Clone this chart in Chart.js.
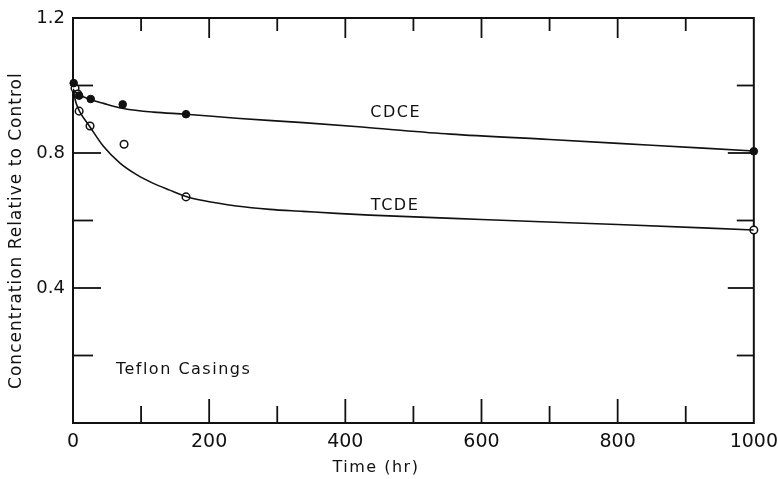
<!DOCTYPE html>
<html>
<head>
<meta charset="utf-8">
<script src="https://cdn.jsdelivr.net/npm/chart.js@4.4.1/dist/chart.umd.min.js"></script>
<style>
  html, body { margin: 0; background: #fff; }
  #wrap { width: 778px; height: 479px; }
</style>
</head>
<body>
<div id="wrap"><canvas id="chart"></canvas></div>
<script>
// measured points (hr, relative concentration)
const cdceHours = [1, 9, 26, 73, 166, 1000];
const cdceValues = [1.007, 0.97, 0.96, 0.944, 0.915, 0.805];
const tcdeHours = [3, 7, 9, 25, 75, 166, 1000];
const tcdeValues = [0.992, 0.975, 0.924, 0.88, 0.826, 0.67, 0.572];

// the drawn-in curves
const cdceFitHours = [0, 3, 25, 45, 74, 118, 166, 240, 338, 436, 554, 700, 850, 1000];
const cdceFitValues = [0.99, 0.982, 0.959, 0.947, 0.932, 0.921, 0.915, 0.903, 0.89, 0.875, 0.856, 0.84, 0.823, 0.806];
const tcdeFitHours = [0, 3, 5, 10, 25, 45, 69, 94, 118, 142, 166, 191, 240, 289, 338, 387, 436, 600, 800, 1000];
const tcdeFitValues = [0.99, 0.96, 0.945, 0.922, 0.877, 0.819, 0.77, 0.735, 0.71, 0.69, 0.671, 0.659, 0.643, 0.633, 0.627, 0.621, 0.616, 0.603, 0.588, 0.572];

const xTicks = [0, 100, 200, 300, 400, 500, 600, 700, 800, 900, 1000];
const xTickLabels = ['0', '', '200', '', '400', '', '600', '', '800', '', '1000'];
const yTicks = [0, 0.2, 0.4, 0.6, 0.8, 1.0, 1.2];
const yTickLabels = ['', '', '0.4', '', '0.8', '', '1.2'];

const INK = '#111';
const FONT = "'DejaVu Sans', sans-serif";

const toXY = (xs, ys) => xs.map((x, i) => ({ x: x, y: ys[i] }));

// frame + inward ticks on all four sides, plus the lettering
const frameTicks = {
  id: 'frameTicks',
  beforeDatasetsDraw(chart) {
    const { ctx, chartArea: a, scales: { x, y } } = chart;
    const line = (x1, y1, x2, y2) => {
      ctx.beginPath(); ctx.moveTo(x1, y1); ctx.lineTo(x2, y2); ctx.stroke();
    };
    ctx.save();
    ctx.strokeStyle = INK;
    ctx.lineWidth = 2;
    ctx.strokeRect(a.left, a.top, a.right - a.left, a.bottom - a.top);
    ctx.lineWidth = 1.8;
    xTicks.forEach((v, i) => {
      if (i === 0 || i === xTicks.length - 1) return;
      const px = x.getPixelForValue(v);
      const long = i % 2 === 0;
      line(px, a.bottom, px, a.bottom - (long ? 24 : 17));
      line(px, a.top, px, a.top + (long ? 20 : 13));
    });
    yTicks.forEach((v, i) => {
      if (i === 0 || i === yTicks.length - 1) return;
      const py = y.getPixelForValue(v);
      const long = i % 2 === 0;
      line(a.left, py, a.left + (long ? 28 : 20), py);
      line(a.right, py, a.right - (long ? 26 : 17), py);
    });
    ctx.restore();
  },
  afterDraw(chart) {
    const { ctx, chartArea: a, scales: { x, y } } = chart;
    ctx.save();
    ctx.fillStyle = INK;
    ctx.textBaseline = 'middle';
    ctx.textAlign = 'center';
    ctx.font = '16px ' + FONT;
    ctx.letterSpacing = '1.5px';
    ctx.fillText('CDCE', x.getPixelForValue(474), y.getPixelForValue(0.918));
    ctx.fillText('TCDE', x.getPixelForValue(473), y.getPixelForValue(0.643));
    ctx.textAlign = 'left';
    ctx.fillText('Teflon Casings', x.getPixelForValue(63), y.getPixelForValue(0.157));

    // axis titles
    ctx.textAlign = 'center';
    ctx.fillText('Time (hr)', x.getPixelForValue(445), a.bottom + 45);
    ctx.save();
    ctx.translate(17, y.getPixelForValue(0.57));
    ctx.rotate(-Math.PI / 2);
    ctx.font = '17px ' + FONT;
    ctx.letterSpacing = '1px';
    ctx.fillText('Concentration Relative to Control', 0, 0);
    ctx.restore();
    ctx.restore();
  }
};

new Chart(document.getElementById('chart'), {
  type: 'scatter',
  data: {
    datasets: [{
      label: 'CDCE fit',
      type: 'line',
      data: toXY(cdceFitHours, cdceFitValues),
      borderColor: INK,
      borderWidth: 1.6,
      pointRadius: 0,
      cubicInterpolationMode: 'monotone',
      fill: false
    }, {
      label: 'TCDE fit',
      type: 'line',
      data: toXY(tcdeFitHours, tcdeFitValues),
      borderColor: INK,
      borderWidth: 1.6,
      pointRadius: 0,
      cubicInterpolationMode: 'monotone',
      fill: false
    }, {
      label: 'CDCE',
      data: toXY(cdceHours, cdceValues),
      pointStyle: 'circle',
      pointRadius: 3.8,
      pointBackgroundColor: INK,
      pointBorderColor: INK,
      pointBorderWidth: 1,
      clip: false
    }, {
      label: 'TCDE',
      data: toXY(tcdeHours, tcdeValues),
      pointStyle: 'circle',
      pointRadius: 3.8,
      pointBackgroundColor: '#fff',
      pointBorderColor: INK,
      pointBorderWidth: 1.5,
      clip: false
    }]
  },
  options: {
    responsive: true,
    maintainAspectRatio: false,
    animation: false,
    layout: { padding: { top: 18, right: 24, left: 0, bottom: 0 } },
    plugins: {
      legend: { display: false },
      tooltip: { enabled: false }
    },
    scales: {
      x: {
        type: 'linear',
        min: 0,
        max: 1000,
        grid: { display: false },
        border: { display: false },
        afterBuildTicks: s => { s.ticks = xTicks.map(v => ({ value: v })); },
        afterFit: s => { s.height = 56; },
        ticks: {
          autoSkip: false,
          maxRotation: 0,
          padding: 0,
          color: INK,
          font: { family: FONT, size: 19 },
          callback: (v, i) => xTickLabels[i]
        }
      },
      y: {
        type: 'linear',
        min: 0,
        max: 1.2,
        grid: { display: false },
        border: { display: false },
        afterBuildTicks: s => { s.ticks = yTicks.map(v => ({ value: v })); },
        afterFit: s => { s.width = 73; },
        ticks: {
          autoSkip: false,
          padding: 0,
          color: INK,
          font: { family: FONT, size: 18 },
          callback: (v, i) => yTickLabels[i]
        }
      }
    }
  },
  plugins: [frameTicks]
});
</script>
</body>
</html>
